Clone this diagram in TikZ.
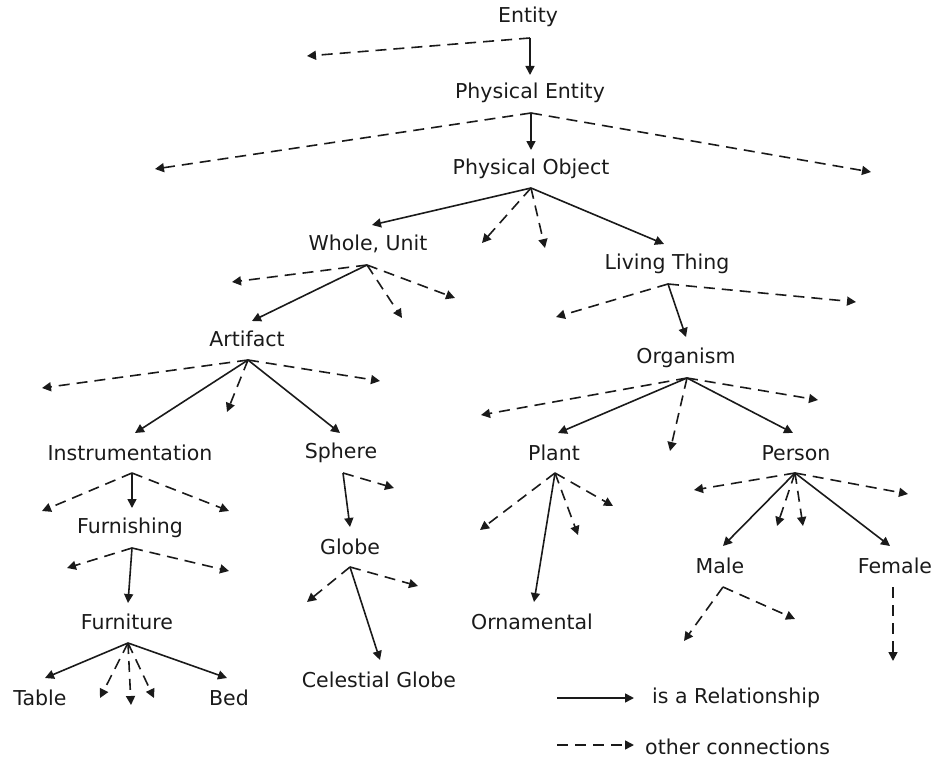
\documentclass[tikz,border=0pt]{standalone}
\usepackage{fontspec}
\setmainfont{DejaVu Sans}
\usetikzlibrary{arrows.meta}
\definecolor{ink}{HTML}{1A1A1A}
\tikzset{
  lbl/.style={inner sep=0pt, text=ink, font=\fontsize{20.5}{24}\selectfont},
  isa/.style={draw=ink, line width=1.6pt, -{Triangle[length=9pt,width=9pt]}},
  oth/.style={draw=ink, line width=1.6pt, dash pattern=on 11pt off 7pt, -{Triangle[length=9pt,width=9pt]}}
}
\begin{document}
\begin{tikzpicture}[x=1pt,y=-1pt]
\useasboundingbox (0,0) rectangle (935,760);
% labels
\node[lbl] (ent) at (528,17) {Entity};
\node[lbl] (pe) at (530,93) {Physical Entity};
\node[lbl] (po) at (531,169) {Physical Object};
\node[lbl] (wu) at (368,244) {Whole, Unit};
\node[lbl] (lt) at (667,264) {Living Thing};
\node[lbl] (art) at (247,339) {Artifact};
\node[lbl] (org) at (686,358) {Organism};
\node[lbl] (ins) at (130,453) {Instrumentation};
\node[lbl] (sph) at (341,453) {Sphere};
\node[lbl] (pla) at (554,453) {Plant};
\node[lbl] (per) at (796,453) {Person};
\node[lbl] (fng) at (130,528) {Furnishing};
\node[lbl] (glo) at (350,547) {Globe};
\node[lbl] (mal) at (720,566) {Male};
\node[lbl] (fem) at (895,566) {Female};
\node[lbl] (fur) at (127,622) {Furniture};
\node[lbl] (orn) at (532,622) {Ornamental};
\node[lbl] (cgl) at (379,680) {Celestial Globe};
\node[lbl] (tab) at (40,698) {Table};
\node[lbl] (bed) at (229,698) {Bed};
\node[lbl, anchor=west] (lg1) at (652,698) {is a Relationship};
\node[lbl, anchor=west] (lg2) at (645,747) {other connections};
% origins (below each label)
\coordinate (ent-o) at (530,38);
\coordinate (pe-o) at (531,113);
\coordinate (po-o) at (531,188);
\coordinate (wu-o) at (367,265);
\coordinate (lt-o) at (668,284);
\coordinate (art-o) at (248,360);
\coordinate (org-o) at (687,378);
\coordinate (ins-o) at (132,473);
\coordinate (sph-o) at (343,473);
\coordinate (pla-o) at (555,473);
\coordinate (per-o) at (795,473);
\coordinate (fng-o) at (132,548);
\coordinate (glo-o) at (350,567);
\coordinate (mal-o) at (723,587);
\coordinate (fem-o) at (893,587);
\coordinate (fur-o) at (128,643);
% entry points (above each label)
\coordinate (pe-i) at (530,75);
\coordinate (po-i) at (531,150);
\coordinate (wu-i) at (372,225);
\coordinate (lt-i) at (664,244);
\coordinate (art-i) at (252,321);
\coordinate (org-i) at (686,337);
\coordinate (ins-i) at (135,433);
\coordinate (sph-i) at (340,433);
\coordinate (pla-i) at (558,433);
\coordinate (per-i) at (793,433);
\coordinate (fng-i) at (132,508);
\coordinate (glo-i) at (350,527);
\coordinate (mal-i) at (723,546);
\coordinate (fem-i) at (890,546);
\coordinate (fur-i) at (128,603);
\coordinate (orn-i) at (534,602);
\coordinate (cgl-i) at (380,660);
\coordinate (tab-i) at (45,678);
\coordinate (bed-i) at (227,678);
% free ends of other connections
\coordinate (e1) at (307,56);
\coordinate (p1) at (155,169);
\coordinate (p2) at (871,172);
\coordinate (o1) at (482,243);
\coordinate (o2) at (545,248);
\coordinate (w1) at (232,282);
\coordinate (w2) at (402,318);
\coordinate (w3) at (455,298);
\coordinate (l1) at (556,317);
\coordinate (l2) at (856,302);
\coordinate (a1) at (42,388);
\coordinate (a2) at (227,412);
\coordinate (a3) at (380,381);
\coordinate (g1) at (481,415);
\coordinate (g2) at (670,451);
\coordinate (g3) at (818,400);
\coordinate (i1) at (42,511);
\coordinate (i2) at (229,511);
\coordinate (f1) at (67,568);
\coordinate (f2) at (229,571);
\coordinate (s1) at (394,488);
\coordinate (b1) at (307,602);
\coordinate (b2) at (418,586);
\coordinate (t1) at (480,530);
\coordinate (t2) at (578,535);
\coordinate (t3) at (613,506);
\coordinate (r1) at (694,490);
\coordinate (r2) at (777,526);
\coordinate (r3) at (803,526);
\coordinate (r4) at (908,494);
\coordinate (m1) at (684,641);
\coordinate (m2) at (795,619);
\coordinate (fe1) at (893,661);
\coordinate (u1) at (100,698);
\coordinate (u2) at (131,705);
\coordinate (u3) at (154,698);
% legend ends
\coordinate (lgs-a) at (557,698);
\coordinate (lgs-b) at (634,698);
\coordinate (lgd-a) at (557,745);
\coordinate (lgd-b) at (634,745);
% is-a connectors
\draw[isa] (ent-o) -- (pe-i);
\draw[isa] (pe-o) -- (po-i);
\draw[isa] (po-o) -- (wu-i);
\draw[isa] (po-o) -- (lt-i);
\draw[isa] (wu-o) -- (art-i);
\draw[isa] (lt-o) -- (org-i);
\draw[isa] (art-o) -- (ins-i);
\draw[isa] (art-o) -- (sph-i);
\draw[isa] (org-o) -- (pla-i);
\draw[isa] (org-o) -- (per-i);
\draw[isa] (ins-o) -- (fng-i);
\draw[isa] (fng-o) -- (fur-i);
\draw[isa] (fur-o) -- (tab-i);
\draw[isa] (fur-o) -- (bed-i);
\draw[isa] (sph-o) -- (glo-i);
\draw[isa] (glo-o) -- (cgl-i);
\draw[isa] (pla-o) -- (orn-i);
\draw[isa] (per-o) -- (mal-i);
\draw[isa] (per-o) -- (fem-i);
% other connections
\draw[oth] (ent-o) -- (e1);
\draw[oth] (pe-o) -- (p1);
\draw[oth] (pe-o) -- (p2);
\draw[oth] (po-o) -- (o1);
\draw[oth] (po-o) -- (o2);
\draw[oth] (wu-o) -- (w1);
\draw[oth] (wu-o) -- (w2);
\draw[oth] (wu-o) -- (w3);
\draw[oth] (lt-o) -- (l1);
\draw[oth] (lt-o) -- (l2);
\draw[oth] (art-o) -- (a1);
\draw[oth] (art-o) -- (a2);
\draw[oth] (art-o) -- (a3);
\draw[oth] (org-o) -- (g1);
\draw[oth] (org-o) -- (g2);
\draw[oth] (org-o) -- (g3);
\draw[oth] (ins-o) -- (i1);
\draw[oth] (ins-o) -- (i2);
\draw[oth] (fng-o) -- (f1);
\draw[oth] (fng-o) -- (f2);
\draw[oth] (fur-o) -- (u1);
\draw[oth] (fur-o) -- (u2);
\draw[oth] (fur-o) -- (u3);
\draw[oth] (sph-o) -- (s1);
\draw[oth] (glo-o) -- (b1);
\draw[oth] (glo-o) -- (b2);
\draw[oth] (pla-o) -- (t1);
\draw[oth] (pla-o) -- (t2);
\draw[oth] (pla-o) -- (t3);
\draw[oth] (per-o) -- (r1);
\draw[oth] (per-o) -- (r2);
\draw[oth] (per-o) -- (r3);
\draw[oth] (per-o) -- (r4);
\draw[oth] (mal-o) -- (m1);
\draw[oth] (mal-o) -- (m2);
\draw[oth] (fem-o) -- (fe1);
% legend
\draw[isa] (lgs-a) -- (lgs-b);
\draw[oth] (lgd-a) -- (lgd-b);
\end{tikzpicture}
\end{document}
